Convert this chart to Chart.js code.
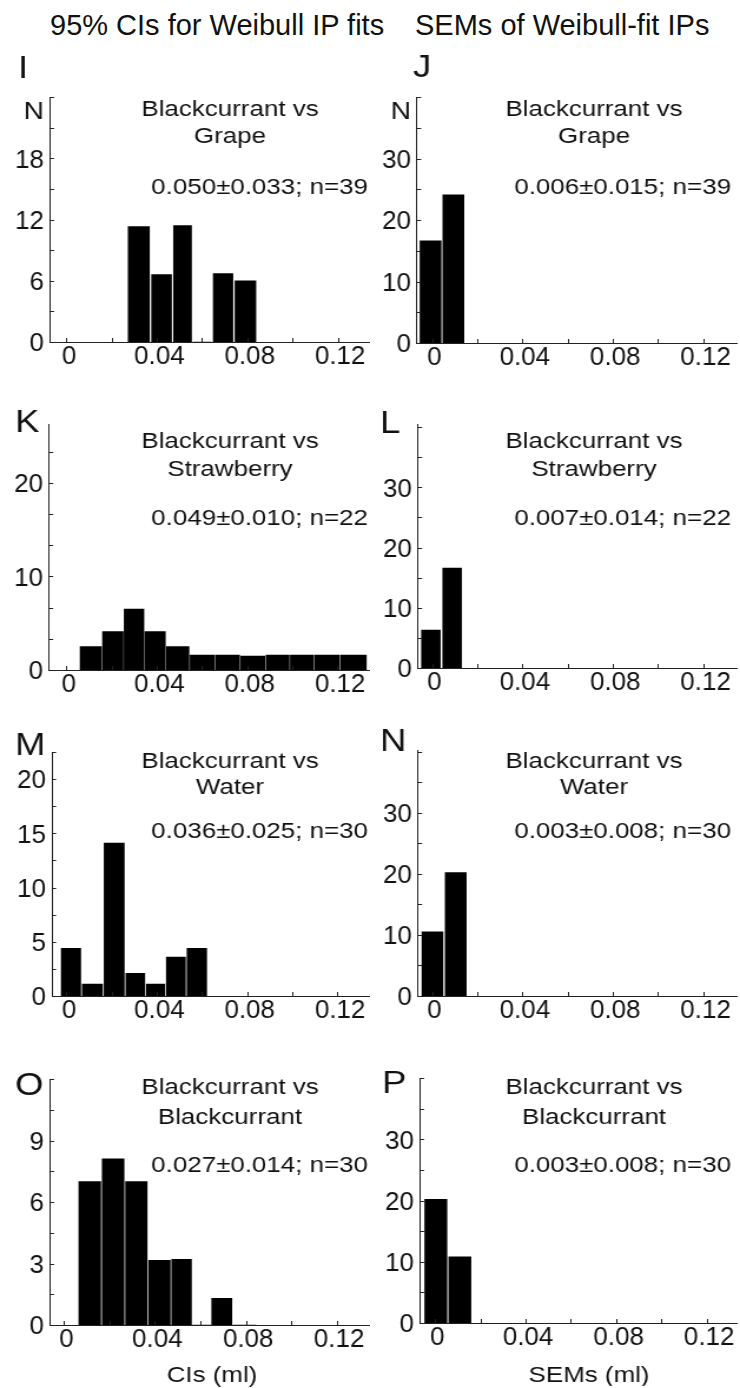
<!DOCTYPE html>
<html>
<head>
<meta charset="utf-8">
<title>Weibull IP fits - CIs and SEMs</title>
<script src="https://cdn.jsdelivr.net/npm/chart.js@4.4.0/dist/chart.umd.min.js"></script>
<style>
  html, body { margin: 0; padding: 0; background: #fff; overflow: hidden; }
  #figure { position: relative; width: 740px; height: 1388px; background: #fff; }
  .hdr { position: absolute; top: 11px; font: 29px/1 "Liberation Sans", Arial, sans-serif; color: #111; white-space: nowrap; }
  canvas { position: absolute; }
</style>
</head>
<body>
<div id="figure">
  <div class="hdr" style="left:50px">95% CIs for Weibull IP fits</div>
  <div class="hdr" style="left:415px">SEMs of Weibull-fit IPs</div>
</div>
<script>
// bin centres (ml) and counts
const binsI = [0.032, 0.0424, 0.0515, 0.060, 0.069, 0.0792];
const countsI = [11.3, 6.6, 11.4, 0, 6.7, 6.0];
const binsJ = [-0.0006, 0.0095];
const countsJ = [16.6, 24.1];
const binsK = [0.0108, 0.0207, 0.030, 0.039, 0.049, 0.060, 0.0713, 0.0825, 0.0937, 0.104, 0.115, 0.127];
const countsK = [2.5, 4.1, 6.5, 4.1, 2.5, 1.6, 1.6, 1.5, 1.6, 1.6, 1.6, 1.6];
const binsL = [-0.0005, 0.0089];
const countsL = [6.3, 16.6];
const binsM = [0.002, 0.0113, 0.0213, 0.0306, 0.0394, 0.0483, 0.0577];
const countsM = [4.4, 1.1, 14.1, 2.1, 1.1, 3.6, 4.4];
const binsN = [0.0002, 0.0105];
const countsN = [10.5, 20.2];
const binsO = [0.0113, 0.0216, 0.0319, 0.0419, 0.0523, 0.0605, 0.0689, 0.0795];
const countsO = [7.0, 8.1, 7.0, 3.15, 3.2, 0, 1.3, 0];
const binsP = [0.0004, 0.011];
const countsP = [20.2, 10.8];

// ticks and tick labels
const xTickValues = [0, 0.02, 0.04, 0.06, 0.08, 0.10, 0.12];
const xTickLabels = [0, 0.04, 0.08, 0.12];
const yLabelsI = [0, 6, 12, 18];
const yLabelsJ = [0, 10, 20, 30];
const yLabelsK = [0, 10, 20];
const yLabelsL = [0, 10, 20, 30];
const yLabelsM = [0, 5, 10, 15, 20];
const yLabelsN = [0, 10, 20, 30];
const yLabelsO = [0, 3, 6, 9];
const yLabelsP = [0, 10, 20, 30];

// text
const comparisons = ['Grape', 'Strawberry', 'Water', 'Blackcurrant'];
const ciStats = ['0.050\u00b10.033; n=39', '0.049\u00b10.010; n=22', '0.036\u00b10.025; n=30', '0.027\u00b10.014; n=30'];
const semStats = ['0.006\u00b10.015; n=39', '0.007\u00b10.014; n=22', '0.003\u00b10.008; n=30', '0.003\u00b10.008; n=30'];
const xTitles = ['CIs (ml)', 'SEMs (ml)'];

const FONT = '"Liberation Sans", Arial, Helvetica, sans-serif';
const TEXT = '#111';
const S = 370 / 314; // panels are drawn narrow and stretched, like the wide lettering of the original

// layout (page pixels)
const rowY = [[108, 135, 186], [440, 468, 517], [760, 786, 830], [1086, 1116, 1164]];
const titleX = [230, 594];
const statsRight = [368, 731];

const panels = [
  {letter: 'I', col: 0, row: 0, area: [50, 97, 369, 342], xr: [-0.0073, 0.1339], ymax: 24, ystep: 3, bins: binsI, counts: countsI, yLabels: yLabelsI, pct: 0.9, lpos: [18, 67]},
  {letter: 'J', col: 1, row: 0, area: [417, 97, 737, 343], xr: [-0.0066, 0.135], ymax: 40, ystep: 5, bins: binsJ, counts: countsJ, yLabels: yLabelsJ, pct: 0.92, lpos: [413, 66]},
  {letter: 'K', col: 0, row: 1, area: [49, 424, 369, 670], xr: [-0.0077, 0.1339], ymax: 26.3, ystep: 10 / 3, bins: binsK, counts: countsK, yLabels: yLabelsK, pct: 0.95, lpos: [15, 421]},
  {letter: 'L', col: 1, row: 1, area: [418, 424, 737, 668], xr: [-0.0062, 0.135], ymax: 40.5, ystep: 5, bins: binsL, counts: countsL, yLabels: yLabelsL, pct: 0.88, lpos: [380, 422]},
  {letter: 'M', col: 0, row: 2, area: [52, 752, 369, 996], xr: [-0.0064, 0.1339], ymax: 22.5, ystep: 2.5, bins: binsM, counts: countsM, yLabels: yLabelsM, pct: 0.92, lpos: [15, 744]},
  {letter: 'N', col: 1, row: 2, area: [418, 750, 737, 996], xr: [-0.0062, 0.135], ymax: 40.3, ystep: 5, bins: binsN, counts: countsN, yLabels: yLabelsN, pct: 0.9, lpos: [380, 740]},
  {letter: 'O', col: 0, row: 3, area: [50, 1079, 369, 1325], xr: [-0.0062, 0.1343], ymax: 12, ystep: 1.5, bins: binsO, counts: countsO, yLabels: yLabelsO, pct: 0.93, lpos: [15, 1084]},
  {letter: 'P', col: 1, row: 3, area: [420, 1078, 737, 1323], xr: [-0.0066, 0.1334], ymax: 40, ystep: 5, bins: binsP, counts: countsP, yLabels: yLabelsP, pct: 0.92, lpos: [382, 1082]}
];

function near(v, list) {
  return list.some(l => Math.abs(v - l) < 1e-6);
}

function xLabel(v) {
  return Math.abs(v) < 1e-9 ? '0' : v.toFixed(2);
}

// tick labels are not stretched in the original, so undo the canvas stretch for them
function plainText(ctx, str, x, y, align) {
  ctx.save();
  ctx.translate(x, y);
  ctx.scale(1 / S, 1);
  ctx.textAlign = align;
  ctx.fillText(str, 0, 0);
  ctx.restore();
}

// inward ticks, tick labels and the panel lettering
function panelDecor(p, colX, top) {
  const texts = [
    {str: p.letter, x: p.lpos[0], y: p.lpos[1], size: 31, align: 'left'},
    {str: 'Blackcurrant vs', x: titleX[p.col], y: rowY[p.row][0], size: 22, align: 'center'},
    {str: comparisons[p.row], x: titleX[p.col], y: rowY[p.row][1], size: 22, align: 'center'},
    {str: (p.col === 0 ? ciStats : semStats)[p.row], x: statsRight[p.col], y: rowY[p.row][2], size: 22, align: 'right'}
  ];
  if (p.row === 0) texts.push({str: 'N', x: p.area[0] - 6, y: 110, size: 24, align: 'right'});
  if (p.row === 3) texts.push({str: xTitles[p.col], x: p.col === 0 ? 212 : 589, y: 1374, size: 22, align: 'center'});

  return {
    id: 'panelDecor',
    afterDatasetsDraw(chart) {
      const ctx = chart.ctx;
      const area = chart.chartArea;
      const xs = chart.scales.x;
      const ys = chart.scales.y;
      ctx.save();
      ctx.strokeStyle = '#222';
      ctx.lineWidth = 1;
      ctx.beginPath();
      xs.ticks.forEach(t => {
        const px = Math.round(xs.getPixelForValue(t.value)) + 0.5;
        ctx.moveTo(px, area.bottom);
        ctx.lineTo(px, area.bottom - 4);
      });
      ys.ticks.forEach(t => {
        if (t.value === 0) return;
        const py = Math.round(ys.getPixelForValue(t.value)) + 0.5;
        ctx.moveTo(area.left, py);
        ctx.lineTo(area.left + 3.5, py);
      });
      ctx.stroke();

      ctx.fillStyle = TEXT;
      ctx.textBaseline = 'alphabetic';
      ctx.font = '26px ' + FONT;
      xs.ticks.forEach(t => {
        if (!near(t.value, xTickLabels)) return;
        plainText(ctx, xLabel(t.value), xs.getPixelForValue(t.value) + 2.5 / S, area.bottom + 21.5, 'center');
      });
      ys.ticks.forEach(t => {
        if (!near(t.value, p.yLabels)) return;
        plainText(ctx, String(Math.round(t.value)), area.left - 6 / S, ys.getPixelForValue(t.value) + 9.3, 'right');
      });

      texts.forEach(t => {
        ctx.font = t.size + 'px ' + FONT;
        ctx.textAlign = t.align;
        ctx.fillText(t.str, (t.x - colX) / S, t.y - top + 0.358 * t.size);
      });
      ctx.restore();
    }
  };
}

const fig = document.getElementById('figure');

panels.forEach(p => {
  const [l, t, r, b] = p.area;
  const colX = p.col * 370;
  const top = t - 50;
  const h = b + 63 - top;

  const canvas = document.createElement('canvas');
  canvas.width = 314;
  canvas.height = h;
  canvas.style.left = colX + 'px';
  canvas.style.top = top + 'px';
  canvas.style.width = '370px';
  canvas.style.height = h + 'px';
  fig.appendChild(canvas);

  new Chart(canvas, {
    type: 'bar',
    data: {
      datasets: [{
        data: p.bins.map((x, i) => ({x: x, y: p.counts[i]})),
        backgroundColor: '#000',
        borderWidth: 0,
        barThickness: 'flex',
        categoryPercentage: 1,
        barPercentage: p.pct
      }]
    },
    options: {
      responsive: false,
      animation: false,
      devicePixelRatio: 1,
      layout: {padding: {top: 50, left: 0, bottom: 0, right: (colX + 370 - r) / S}},
      plugins: {legend: {display: false}, tooltip: {enabled: false}},
      scales: {
        x: {
          type: 'linear',
          min: p.xr[0],
          max: p.xr[1],
          offset: false,
          grid: {display: false, drawTicks: false, tickLength: 0},
          border: {display: true, color: '#222', width: 1},
          ticks: {display: false},
          afterBuildTicks: s => { s.ticks = xTickValues.map(v => ({value: v})); },
          afterFit: s => { s.height = 63; }
        },
        y: {
          min: 0,
          max: p.ymax,
          grid: {display: false, drawTicks: false, tickLength: 0},
          border: {display: true, color: '#222', width: 1},
          ticks: {display: false},
          afterBuildTicks: s => {
            const ticks = [];
            for (let k = 0; k * p.ystep <= p.ymax + 1e-9; k++) ticks.push({value: k * p.ystep});
            s.ticks = ticks;
          },
          afterFit: s => { s.width = (l - colX) / S; }
        }
      }
    },
    plugins: [panelDecor(p, colX, top)]
  });
});
</script>
</body>
</html>
